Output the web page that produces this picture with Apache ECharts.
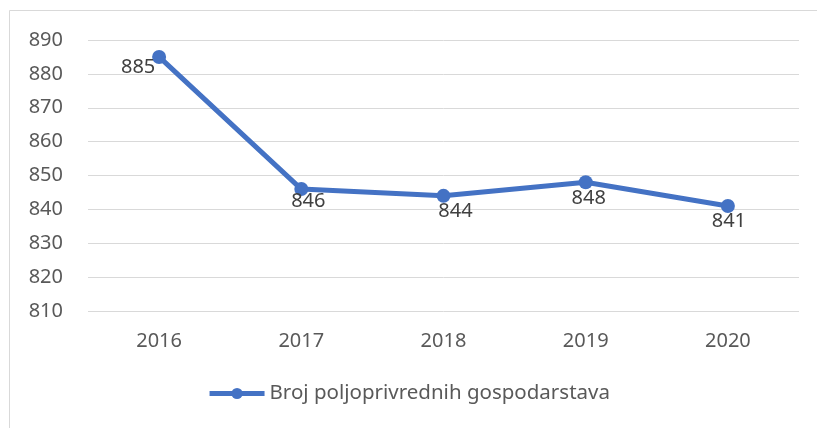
<!DOCTYPE html>
<html>
<head>
<meta charset="utf-8">
<script src="https://cdn.jsdelivr.net/npm/echarts@6/dist/echarts.min.js"></script>
<style>
  html, body { margin: 0; padding: 0; background: #fff; }
  #chart { width: 817px; height: 428px; }
</style>
</head>
<body>
<div id="chart"></div>
<script>
// godine i broj gospodarstava
const years = ['2016', '2017', '2018', '2019', '2020']
const farms = [885, 846, 844, 848, 841]
const labelOffsets = [[-21, 10], [7, 12], [12, 15], [3, 16], [1, 15]]
const seriesName = 'Broj poljoprivrednih gospodarstava'

const font = '"Noto Sans", sans-serif'
const textColor = '#595959'

const chart = echarts.init(document.getElementById('chart'))

chart.setOption({
  animation: false,
  backgroundColor: '#fff',
  textStyle: { fontFamily: font },
  graphic: [{
    type: 'rect',
    shape: { x: 9.5, y: 10.5, width: 830, height: 440 },
    style: { fill: 'none', stroke: '#d9d9d9', lineWidth: 1 }
  }],
  grid: { left: 88, right: 18, top: 40, bottom: 117 },
  legend: {
    bottom: 19,
    left: 'center',
    itemWidth: 55,
    itemHeight: 14,
    itemGap: 5,
    lineStyle: { width: 5 },
    textStyle: { fontFamily: font, fontSize: 20.5, color: textColor },
    data: [seriesName]
  },
  xAxis: {
    type: 'category',
    data: years,
    axisLine: { show: false },
    axisTick: { show: false },
    axisLabel: { fontSize: 20, color: textColor, margin: 20, fontFamily: font }
  },
  yAxis: {
    type: 'value',
    min: 810,
    max: 890,
    interval: 10,
    axisLine: { show: false },
    axisTick: { show: false },
    axisLabel: { fontSize: 20, color: textColor, margin: 25, fontFamily: font },
    splitLine: { lineStyle: { color: '#d9d9d9', width: 1 } }
  },
  series: [{
    name: seriesName,
    type: 'line',
    data: farms.map((v, i) => ({
      value: v,
      label: { offset: labelOffsets[i] }
    })),
    symbol: 'circle',
    symbolSize: 14,
    lineStyle: { color: '#4472C4', width: 5 },
    itemStyle: { color: '#4472C4' },
    label: {
      show: true,
      position: 'inside',
      fontSize: 20,
      color: '#404040',
      fontFamily: font
    }
  }]
})
</script>
</body>
</html>
